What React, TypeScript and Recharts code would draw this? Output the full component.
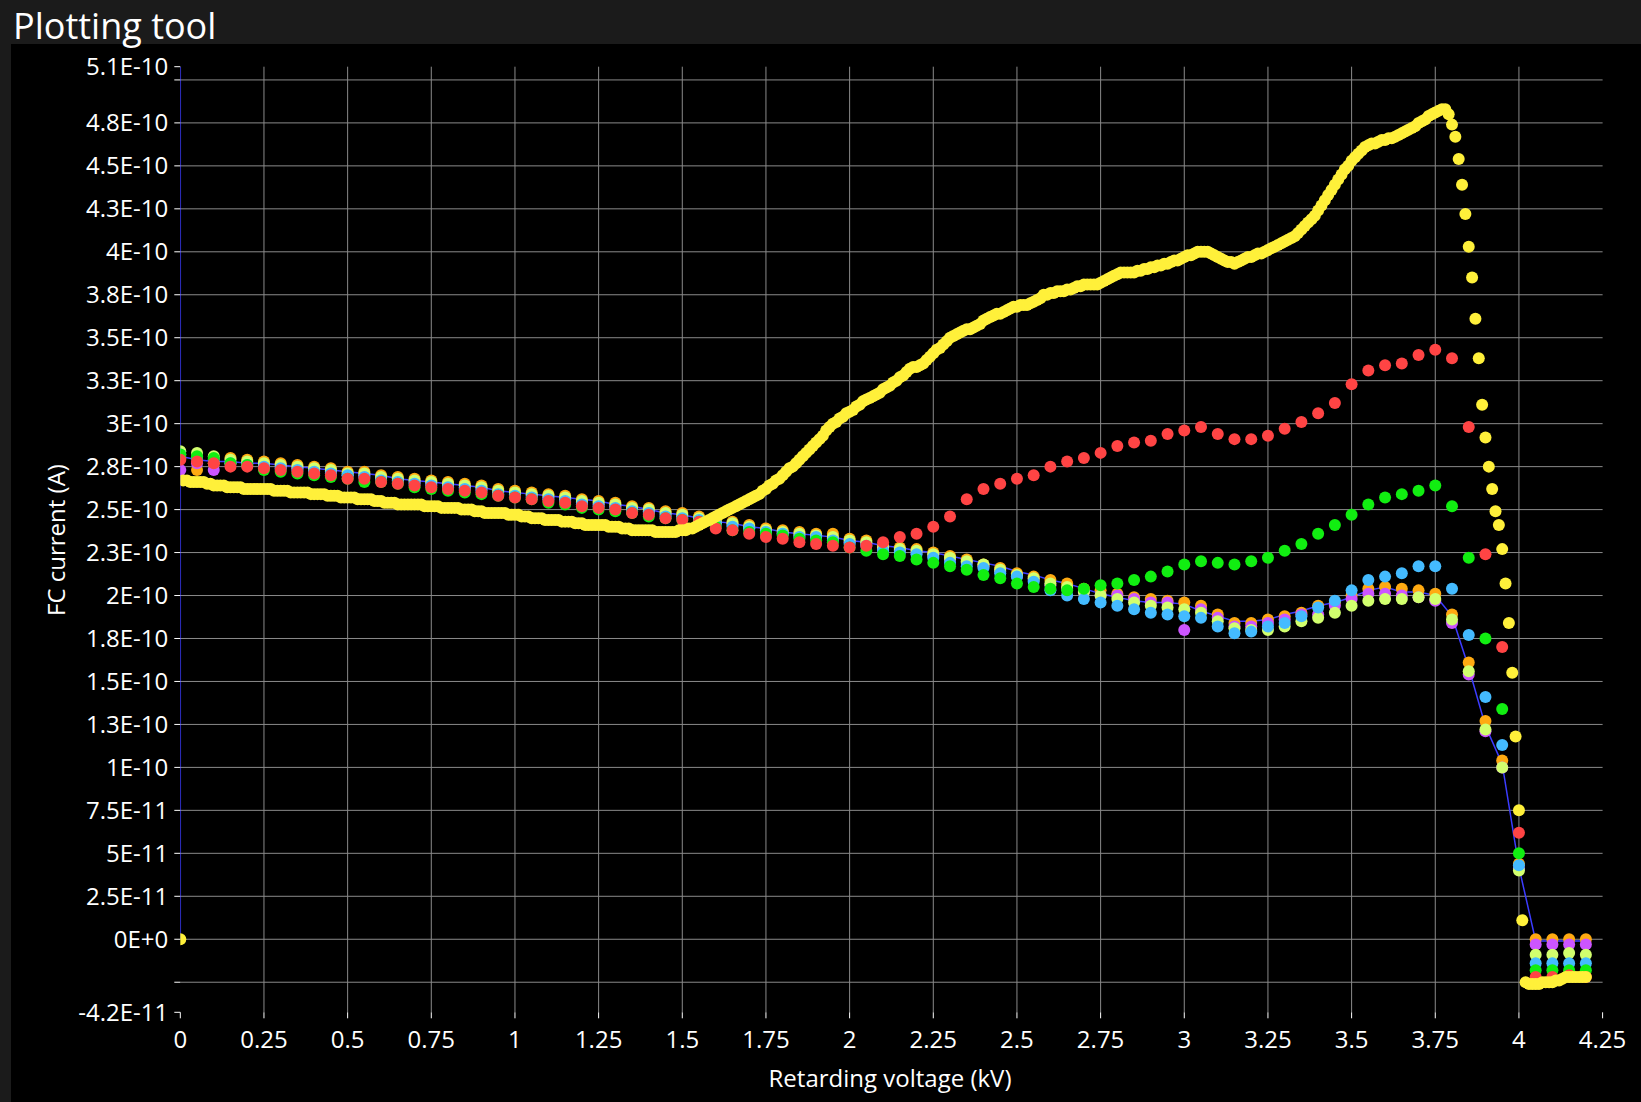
import { CartesianGrid, ComposedChart, Line, Scatter, XAxis, YAxis } from 'recharts';

// FC current in pA (1e-12 A). Coarse sweeps are sampled every 0.05 kV, the yellow one every 0.01 kV.
const COARSE_STEP = 0.05;
const FINE_STEP = 0.01;

const red = [
  279, 278, 277, 275, 275, 274, 273, 272, 271, 270,
  268, 268, 266, 265, 264, 263, 262, 261, 260, 258,
  257, 256, 255, 254, 252, 251, 250, 248, 247, 245,
  244, 243, 239, 238, 236, 234, 233, 231, 230, 229,
  228, 229, 231, 234, 236, 240, 246, 256, 262, 265,
  268, 270, 275, 278, 280, 283, 287, 289, 290, 294,
  296, 298, 294, 291, 291, 293, 297, 301, 306, 312,
  323, 331, 334, 335, 340, 343, 338, 298, 224, 170,
  62, -22, -22, -21, -22,
];

const green = [
  282, 281, 280, 277, 276, 273, 272, 271, 270, 269,
  268, 266, 266, 265, 263, 262, 261, 260, 259, 258,
  257, 256, 254, 253, 251, 250, 249, 248, 246, 245,
  244, 243, 240, 238, 237, 236, 235, 233, 232, 231,
  228, 226, 224, 223, 221, 219, 217, 215, 212, 210,
  207, 205, 204, 203, 204, 206, 207, 209, 211, 214,
  218, 220, 219, 218, 220, 222, 226, 230, 236, 241,
  247, 253, 257, 259, 261, 264, 252, 222, 175, 134,
  50, -18, -18, -18, -18,
];

const cyan = [
  282, 280, 279, 277, 276, 275, 274, 273, 272, 271,
  270, 269, 267, 266, 265, 264, 263, 262, 261, 259,
  258, 257, 256, 255, 253, 252, 251, 249, 248, 246,
  245, 244, 242, 240, 239, 237, 236, 234, 234, 232,
  230, 229, 226, 225, 224, 222, 219, 217, 216, 213,
  211, 208, 203, 200, 198, 196, 194, 192, 190, 189,
  188, 187, 182, 178, 179, 182, 184, 188, 193, 197,
  203, 209, 211, 213, 217, 217, 204, 177, 141, 113,
  43, -14, -14, -14, -14,
];

const lime = [
  284, 283, 281, 279, 278, 277, 276, 275, 274, 273,
  271, 271, 269, 268, 267, 266, 265, 264, 263, 261,
  260, 259, 258, 257, 255, 254, 253, 251, 250, 248,
  247, 245, 243, 242, 240, 238, 237, 236, 235, 234,
  232, 231, 228, 227, 226, 224, 222, 220, 218, 215,
  212, 210, 207, 205, 202, 200, 198, 196, 194, 193,
  192, 190, 185, 181, 180, 180, 182, 185, 187, 190,
  194, 197, 198, 198, 199, 198, 186, 156, 122, 100,
  40, -9, -9, -8, -9,
];

const orange = [
  280, 273, 277, 280, 279, 278, 277, 276, 275, 274,
  272, 272, 270, 269, 268, 267, 266, 265, 264, 262,
  261, 260, 259, 258, 256, 255, 254, 252, 251, 249,
  248, 246, 244, 243, 241, 239, 238, 237, 236, 236,
  233, 232, 229, 228, 227, 225, 223, 221, 218, 216,
  213, 211, 209, 207, 204, 203, 201, 199, 198, 197,
  196, 194, 189, 184, 184, 186, 188, 190, 194, 196,
  200, 204, 205, 204, 203, 201, 189, 161, 127, 104,
  44, 0, 0, 0, 0,
];

const purple = [
  273, 277, 273, 277, 277, 276, 275, 274, 273, 272,
  270, 270, 268, 267, 266, 265, 264, 263, 262, 260,
  259, 258, 257, 256, 254, 253, 252, 250, 249, 247,
  246, 244, 242, 241, 239, 237, 236, 235, 234, 233,
  231, 230, 227, 226, 225, 223, 221, 219, 217, 214,
  211, 209, 206, 204, 202, 200, 200, 198, 196, 196,
  180, 192, 187, 182, 182, 184, 186, 189, 189, 194,
  198, 201, 201, 200, 199, 197, 184, 154, 121, 100,
  41, -3, -3, -3, -3,
];

// thin blue trace: starts with a vertical run at 0 kV, then follows the coarse grid
const blueLead = [0, 507.7];
const blueTrace = [
  281, 279, 278, 278, 277, 277, 276, 275, 274, 273,
  272, 271, 270, 268, 267, 266, 265, 264, 263, 261,
  260, 259, 258, 257, 256, 255, 253, 252, 250, 248,
  247, 245, 243, 242, 240, 239, 237, 236, 235, 234,
  232, 231, 229, 228, 226, 225, 223, 221, 219, 217,
  214, 212, 209, 207, 204, 201, 199, 197, 196, 196,
  195, 191, 188, 185, 185, 186, 189, 191, 194, 196,
  199, 203, 205, 202, 202, 200, 188, 158, 124, 102,
  42, -1, -1, -1, -1,
];

const yellow = [
  0, 267, 267, 266, 266, 266, 266, 266, 265, 265,
  264, 264, 264, 264, 263, 263, 263, 263, 263, 262,
  262, 262, 262, 262, 262, 262, 262, 262, 261, 261,
  261, 261, 261, 260, 260, 260, 260, 260, 260, 259,
  259, 259, 259, 259, 258, 258, 258, 258, 257, 257,
  257, 257, 257, 256, 256, 256, 256, 256, 255, 255,
  255, 254, 254, 254, 254, 253, 253, 253, 253, 253,
  253, 253, 253, 252, 252, 252, 252, 252, 251, 251,
  251, 251, 251, 251, 250, 250, 250, 250, 249, 249,
  249, 248, 248, 248, 248, 248, 248, 248, 247, 247,
  247, 247, 246, 246, 246, 245, 245, 245, 245, 244,
  244, 244, 244, 244, 243, 243, 243, 243, 242, 242,
  242, 241, 241, 241, 241, 241, 241, 241, 240, 240,
  240, 240, 239, 239, 239, 238, 238, 238, 238, 238,
  238, 238, 237, 237, 237, 237, 237, 237, 237, 238,
  238, 238, 239, 239, 240, 241, 242, 243, 244, 245,
  246, 247, 248, 249, 250, 251, 252, 253, 254, 255,
  256, 257, 258, 259, 261, 262, 264, 265, 267, 268,
  270, 272, 274, 275, 277, 279, 281, 283, 285, 287,
  289, 291, 293, 296, 298, 300, 301, 303, 304, 306,
  307, 308, 310, 311, 313, 314, 315, 316, 317, 318,
  320, 321, 322, 324, 325, 327, 328, 330, 332, 333,
  333, 334, 335, 337, 339, 341, 343, 344, 346, 348,
  350, 351, 352, 353, 354, 355, 355, 356, 357, 358,
  360, 361, 362, 363, 364, 364, 365, 366, 367, 368,
  368, 369, 369, 369, 370, 371, 372, 373, 375, 375,
  376, 376, 377, 377, 377, 378, 378, 379, 380, 380,
  381, 381, 381, 381, 381, 382, 383, 384, 385, 386,
  387, 388, 388, 388, 388, 388, 389, 389, 390, 390,
  391, 391, 392, 392, 393, 393, 394, 395, 395, 396,
  397, 398, 398, 399, 400, 400, 400, 400, 399, 398,
  397, 396, 395, 394, 394, 393, 394, 395, 396, 397,
  397, 398, 399, 399, 400, 401, 402, 403, 404, 405,
  406, 407, 408, 409, 411, 413, 415, 417, 419, 421,
  424, 427, 430, 433, 436, 439, 442, 445, 448, 450,
  453, 455, 457, 459, 461, 462, 463, 463, 464, 465,
  465, 466, 466, 467, 468, 469, 470, 471, 472, 473,
  475, 476, 477, 479, 480, 481, 482, 483, 483, 480,
  474, 467, 454, 439, 422, 403, 385, 361, 338, 311,
  292, 275, 262, 249, 241, 227, 207, 184, 155, 118,
  75, 11, -25, -26, -26, -26, -26, -25, -25, -25,
  -25, -24, -24, -23, -22, -22, -22, -22, -22, -22,
  -22,
];

const xTicks = [0, 0.25, 0.5, 0.75, 1, 1.25, 1.5, 1.75, 2, 2.25, 2.5, 2.75, 3, 3.25, 3.5, 3.75, 4, 4.25];
const yTicks = [
  -42.5, -25, 0, 25, 50, 75, 100, 125, 150, 175, 200, 225, 250, 275, 300, 325, 350, 375, 400, 425, 450,
  475, 500, 507.7,
];
const yTickLabels = [
  '-4.2E-11', '', '0E+0', '2.5E-11', '5E-11', '7.5E-11', '1E-10', '1.3E-10', '1.5E-10', '1.8E-10', '2E-10',
  '2.3E-10', '2.5E-10', '2.8E-10', '3E-10', '3.3E-10', '3.5E-10', '3.8E-10', '4E-10', '4.3E-10', '4.5E-10',
  '4.8E-10', '', '5.1E-10',
];

const coarse = (values: number[]) =>
  values.map((y, i) => ({ x: Math.round(i * COARSE_STEP * 100) / 100, y }));
const fine = (values: number[]) =>
  values.map((y, i) => ({ x: Math.round(i * FINE_STEP * 100) / 100, y }));

const blueData = [...blueLead.map((y) => ({ x: 0, y })), ...coarse(blueTrace)];

// drawn first to last
const sweeps = [
  { name: 'orange', color: '#ffaa11', data: coarse(orange) },
  { name: 'purple', color: '#cc55ff', data: coarse(purple) },
  { name: 'lime', color: '#d2ff6e', data: coarse(lime) },
  { name: 'cyan', color: '#44bbff', data: coarse(cyan) },
  { name: 'green', color: '#11ee11', data: coarse(green) },
  { name: 'red', color: '#ff4444', data: coarse(red) },
  { name: 'yellow', color: '#fff03a', data: fine(yellow) },
];

const FONT = '"Open Sans", "Noto Sans", sans-serif';

const dotShape = (color: string) => (p: any) =>
  p.cx == null || p.cy == null ? <g /> : <circle cx={p.cx} cy={p.cy} r={6} fill={color} />;

export default function App() {
  return (
    <div
      style={{
        position: 'absolute',
        left: 0,
        top: 0,
        width: 1641,
        height: 1102,
        background: '#1b1b1b',
        fontFamily: FONT,
        overflow: 'hidden',
      }}
    >
      <div style={{ position: 'absolute', left: 11, top: 44, right: 0, bottom: 0, background: '#000' }} />
      <div
        style={{
          position: 'absolute',
          left: 13,
          top: 1,
          fontSize: 36,
          color: '#ffffff',
          whiteSpace: 'nowrap',
        }}
      >
        Plotting tool
      </div>
      <div style={{ position: 'absolute', left: 0, top: 0 }}>
        <ComposedChart
          width={1641}
          height={1102}
          margin={{ top: 66.7, right: 38.4, bottom: 29.7, left: 10.3 }}
        >
          <CartesianGrid
            stroke="#8a8a8a"
            strokeWidth={1}
            horizontalValues={yTicks.slice(1, -1)}
            verticalValues={xTicks.slice(1, -1)}
          />
          <XAxis
            type="number"
            dataKey="x"
            domain={[0, 4.25]}
            ticks={xTicks}
            interval={0}
            allowDataOverflow
            height={60}
            axisLine={false}
            tickLine={{ stroke: '#ffffff' }}
            tickSize={6}
            tickMargin={13}
            tick={{ fill: '#ffffff', fontSize: 24, fontFamily: FONT }}
          />
          <YAxis
            type="number"
            dataKey="y"
            domain={[-42.5, 507.7]}
            ticks={yTicks}
            interval={0}
            allowDataOverflow
            width={170}
            axisLine={false}
            tickLine={{ stroke: '#ffffff' }}
            tickSize={6}
            tickMargin={6}
            tick={{ fill: '#ffffff', fontSize: 24, fontFamily: FONT }}
            tickFormatter={(v: number) => yTickLabels[yTicks.indexOf(v)] ?? ''}
          />
          <Line
            data={blueData}
            dataKey="y"
            type="linear"
            stroke="#3c3cff"
            strokeWidth={1.5}
            dot={false}
            activeDot={false}
            isAnimationActive={false}
          />
          {sweeps.map((s) => (
            <Scatter
              key={s.name}
              name={s.name}
              data={s.data}
              dataKey="y"
              fill={s.color}
              shape={dotShape(s.color)}
              isAnimationActive={false}
            />
          ))}
        </ComposedChart>
      </div>
      <div
        style={{
          position: 'absolute',
          left: 890,
          top: 1066,
          transform: 'translateX(-50%)',
          whiteSpace: 'nowrap',
          fontSize: 24,
          lineHeight: '24px',
          color: '#ffffff',
        }}
      >
        Retarding voltage (kV)
      </div>
      <div
        style={{
          position: 'absolute',
          left: 55.5,
          top: 540,
          transform: 'translate(-50%, -50%) rotate(-90deg)',
          whiteSpace: 'nowrap',
          fontSize: 24,
          lineHeight: '24px',
          color: '#ffffff',
        }}
      >
        FC current (A)
      </div>
    </div>
  );
}
